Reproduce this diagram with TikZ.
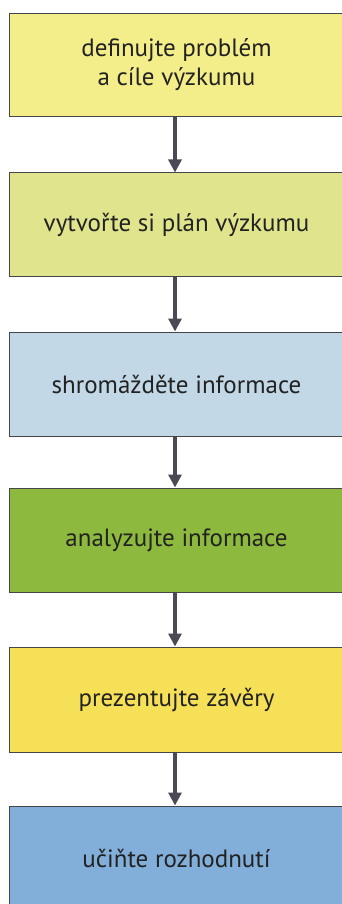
\documentclass[tikz,border=0pt]{standalone}
\usepackage{fontspec}
\setmainfont{PT Sans}
\usetikzlibrary{arrows.meta}
\definecolor{cA}{HTML}{F4EE8A}
\definecolor{cB}{HTML}{E0E48C}
\definecolor{cC}{HTML}{C2D8E6}
\definecolor{cD}{HTML}{8DBA3E}
\definecolor{cE}{HTML}{F5E058}
\definecolor{cF}{HTML}{82AEDA}
\definecolor{edge}{HTML}{45454A}
\definecolor{arr}{HTML}{4A4A55}
\definecolor{txt}{HTML}{222222}
\tikzset{
  stage/.style={draw=edge, line width=1pt, rectangle, minimum width=335pt,
    minimum height=103pt, inner sep=0pt, align=center, text=txt,
    font=\fontsize{25}{29}\selectfont},
  flow/.style={draw=arr, line width=4pt, -{Triangle[width=13pt,length=13pt]}}
}
\begin{document}
\begin{tikzpicture}[x=1pt,y=-1pt]
\useasboundingbox (0,0) rectangle (342,904);
\fill[white] (0,0) rectangle (342,904);
\clip (0,0) rectangle (342,904);
\node[stage, fill=cA] (n1) at (176.5,65.5) {\raisebox{-3pt}{\begin{tabular}{@{}c@{}}definujte problém\\a cíle výzkumu\end{tabular}}};
\node[stage, fill=cB] (n2) at (176.5,224.5) {vytvořte si plán výzkumu};
\node[stage, fill=cC, minimum height=104pt] (n3) at (176.5,384) {shromážděte informace};
\node[stage, fill=cD, minimum height=104pt] (n4) at (176.5,540) {analyzujte informace};
\node[stage, fill=cE, minimum height=105pt] (n5) at (176.5,699.5) {prezentujte závěry};
\node[stage, fill=cF, minimum height=104pt] (n6) at (176.5,858) {učiňte rozhodnutí};
\draw[flow] (n1.south -| 175,0) -- (n2.north -| 175,0);
\draw[flow] (n2.south -| 175,0) -- (n3.north -| 175,0);
\draw[flow] (n3.south -| 175,0) -- (n4.north -| 175,0);
\draw[flow] (n4.south -| 175,0) -- (n5.north -| 175,0);
\draw[flow] (n5.south -| 175,0) -- (n6.north -| 175,0);
\end{tikzpicture}
\end{document}
